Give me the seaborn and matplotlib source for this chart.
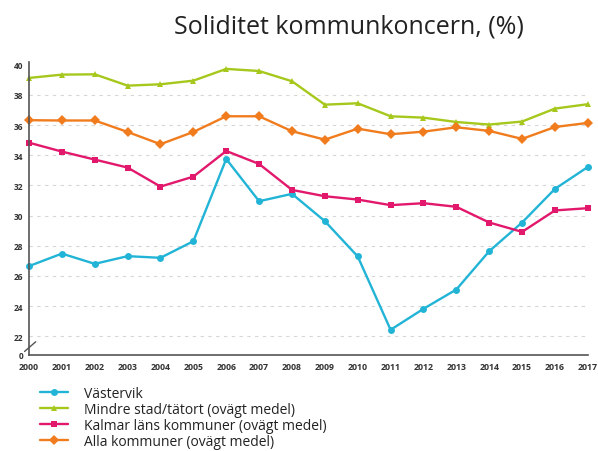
import numpy as np
import pandas as pd
import matplotlib
matplotlib.use('Agg')
import matplotlib.pyplot as plt
import seaborn as sns

# ========== data ==========
years = list(range(2000, 2018))
vastervik = [26.65, 27.48, 26.8, 27.31, 27.2, 28.3, 33.75, 30.95, 31.44, 29.63,
             27.29, 22.43, 23.82, 25.1, 27.64, 29.54, 31.77, 33.22]
mindre_stad = [39.12, 39.34, 39.36, 38.61, 38.7, 38.94, 39.72, 39.58, 38.9, 37.35,
               37.44, 36.58, 36.49, 36.2, 36.03, 36.23, 37.09, 37.38]
kalmar = [34.83, 34.24, 33.71, 33.18, 31.92, 32.58, 34.28, 33.42, 31.7, 31.28,
          31.06, 30.69, 30.82, 30.58, 29.54, 28.92, 30.34, 30.49]
alla = [36.32, 36.3, 36.3, 35.54, 34.73, 35.54, 36.58, 36.58, 35.59, 35.03,
        35.76, 35.39, 35.56, 35.85, 35.61, 35.08, 35.87, 36.14]

series_names = ['Västervik', 'Mindre stad/tätort (ovägt medel)',
                'Kalmar läns kommuner (ovägt medel)', 'Alla kommuner (ovägt medel)']
colors = ['#22b4d6', '#a6c81c', '#e2186c', '#f07c1e']
markers = ['o', '^', 's', 'D']

y_ticks = [22, 24, 26, 28, 30, 32, 34, 36, 38, 40]
y_bottom = 20.76  # axis break: bottom of axis is labelled 0

df = pd.DataFrame({'År': years * 4,
                   'Värde': vastervik + mindre_stad + kalmar + alla,
                   'Serie': np.repeat(series_names, len(years))})

# ========== plot ==========
sns.set_style('white')
plt.rcParams['font.family'] = ['Open Sans', 'DejaVu Sans']

fig = plt.figure(figsize=(5.98, 4.52), dpi=100)
ax = fig.add_axes([0.0485, 0.2124, 0.9345, 0.649])

for ytk in y_ticks[:-1]:
    ax.axhline(ytk, color='#d6d6d6', lw=0.8, ls=(0, (3, 4)), zorder=0)

sns.lineplot(data=df, x='År', y='Värde', hue='Serie', style='Serie',
             palette=colors, markers=markers, dashes=False, lw=1.7,
             markersize=5, markeredgewidth=0, ax=ax, legend=False, clip_on=False)

ax.set_xlim(2000, 2017)
ax.set_ylim(y_bottom, 40.2)
ax.set_xticks(years)
ax.set_xticklabels([str(y) for y in years], fontsize=6.3, fontweight='bold', color='#333333')
ax.set_yticks([y_bottom] + y_ticks)
ax.set_yticklabels(['0'] + [str(t) for t in y_ticks], fontsize=6, fontweight='bold', color='#333333')
ax.tick_params(axis='x', length=3, width=0.8, color='#555555', pad=2, direction='out')
ax.tick_params(axis='y', length=0, pad=4)
ax.set_xlabel('')
ax.set_ylabel('')
for side in ['top', 'right']:
    ax.spines[side].set_visible(False)
for side in ['left', 'bottom']:
    ax.spines[side].set_color('#555555')
    ax.spines[side].set_linewidth(1.2)

# axis break mark
ax.plot([-0.008, 0.012], [0.012, 0.045], transform=ax.transAxes, color='#555555',
        lw=1.0, clip_on=False)

fig.text(0.584, 0.94, 'Soliditet kommunkoncern, (%)', ha='center', va='center',
         fontsize=18, color='#222222')

handles = [plt.Line2D([], [], color=c, marker=m, lw=1.7, markersize=5, markeredgewidth=0)
           for c, m in zip(colors, markers)]
fig.legend(handles, series_names, loc='upper left', bbox_to_anchor=(0.055, 0.16),
           frameon=False, fontsize=10, handlelength=2.0, handletextpad=1.2,
           labelspacing=0.08, borderpad=0, labelcolor='#222222')

fig.savefig('out.png', dpi=100)
